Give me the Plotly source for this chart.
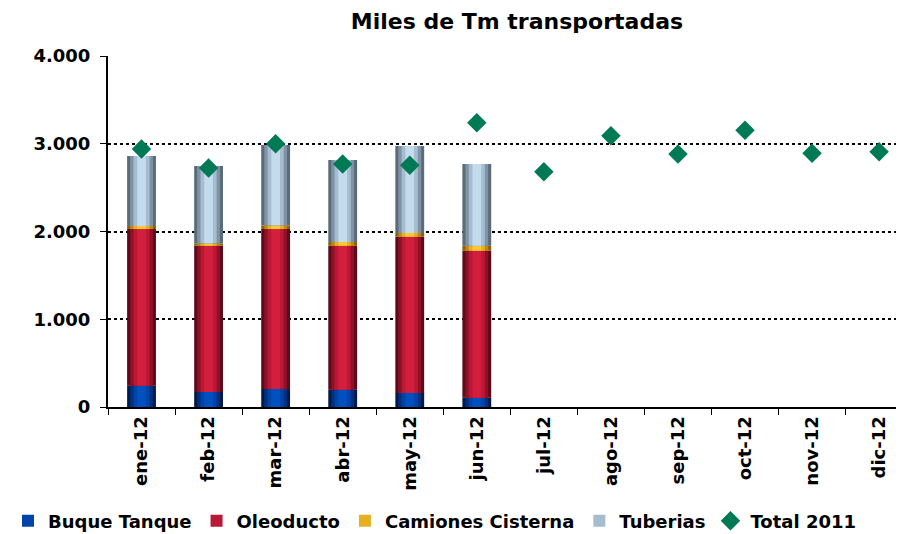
import plotly.graph_objects as go

months = ["ene-12", "feb-12", "mar-12", "abr-12", "may-12", "jun-12",
          "jul-12", "ago-12", "sep-12", "oct-12", "nov-12", "dic-12"]
bar_months = months[:6]
buque = [243, 171, 205, 198, 160, 106]
oleoducto = [1785, 1667, 1823, 1640, 1781, 1675]
camiones = [35, 27, 42, 42, 42, 57]
tuberias = [797, 881, 916, 935, 991, 931]
total_2011 = [2940, 2724, 3001, 2769, 2754, 3240, 2681, 3092, 2883, 3153, 2891, 2909]

series = [
    ("Buque Tanque", buque, ["#001a4d", "#00307f", "#0044a8", "#0050c0"]),
    ("Oleoducto", oleoducto, ["#5e0a18", "#8e1128", "#bb1836", "#d41e3e"]),
    ("Camiones Cisterna", camiones, ["#8a6008", "#c08a10", "#e8b020", "#f7c832"]),
    ("Tuberias", tuberias, ["#5a6b7a", "#7f93a5", "#a6bdd0", "#c4dbee"]),
]
widths = [0.43, 0.34, 0.24, 0.13]

FONT = "DejaVu Sans"

fig = go.Figure()
base = [0] * len(bar_months)
for rank, (name, vals, cols) in enumerate(series):
    for i, (w, c) in enumerate(zip(widths, cols)):
        fig.add_trace(go.Bar(
            x=bar_months, y=vals, base=base, width=w,
            marker=dict(color=c, line=dict(width=0)),
            name=name, legendgroup=name, showlegend=(i == 2),
            legendrank=rank + 1,
        ))
    base = [b + v for b, v in zip(base, vals)]

fig.add_trace(go.Scatter(
    x=months, y=total_2011, mode="markers", name="Total 2011",
    marker=dict(symbol="diamond", size=15, color="#007a55"),
    legendrank=10,
))

fig.update_layout(
    width=904, height=534,
    margin=dict(l=95, r=0, t=48, b=135),
    barmode="overlay",
    separators=",.",
    plot_bgcolor="white", paper_bgcolor="white",
    font=dict(family=FONT, color="black"),
    title=dict(text="Miles de Tm transportadas", x=0.563, xanchor="center",
               y=0.975, yanchor="middle",
               font=dict(size=22, color="black", family=FONT, weight="bold")),
    legend=dict(orientation="h", x=-0.125, xanchor="left", y=-0.325, yanchor="middle",
                font=dict(size=18, color="black", family=FONT, weight="bold"),
                itemwidth=30, traceorder="normal", tracegroupgap=0),
    xaxis=dict(categoryorder="array", categoryarray=months,
               range=[-0.5, 11.49], showline=True, linecolor="black", linewidth=2,
               ticks="outside", ticklen=6, tickcolor="black", tickangle=-90,
               tickfont=dict(size=18, color="black", family=FONT, weight="bold"),
               tickson="boundaries", showgrid=False),
    yaxis=dict(range=[0, 4000], tickvals=[0, 1000, 2000, 3000, 4000], tickformat=",d",
               showline=True, linecolor="black", linewidth=2, ticks="outside",
               ticklen=6, tickcolor="black", ticklabelstandoff=6,
               showgrid=True, gridcolor="black", griddash="dot", gridwidth=2,
               zeroline=False,
               tickfont=dict(size=18, color="black", family=FONT, weight="bold")),
)
fig.write_html("out.html")
